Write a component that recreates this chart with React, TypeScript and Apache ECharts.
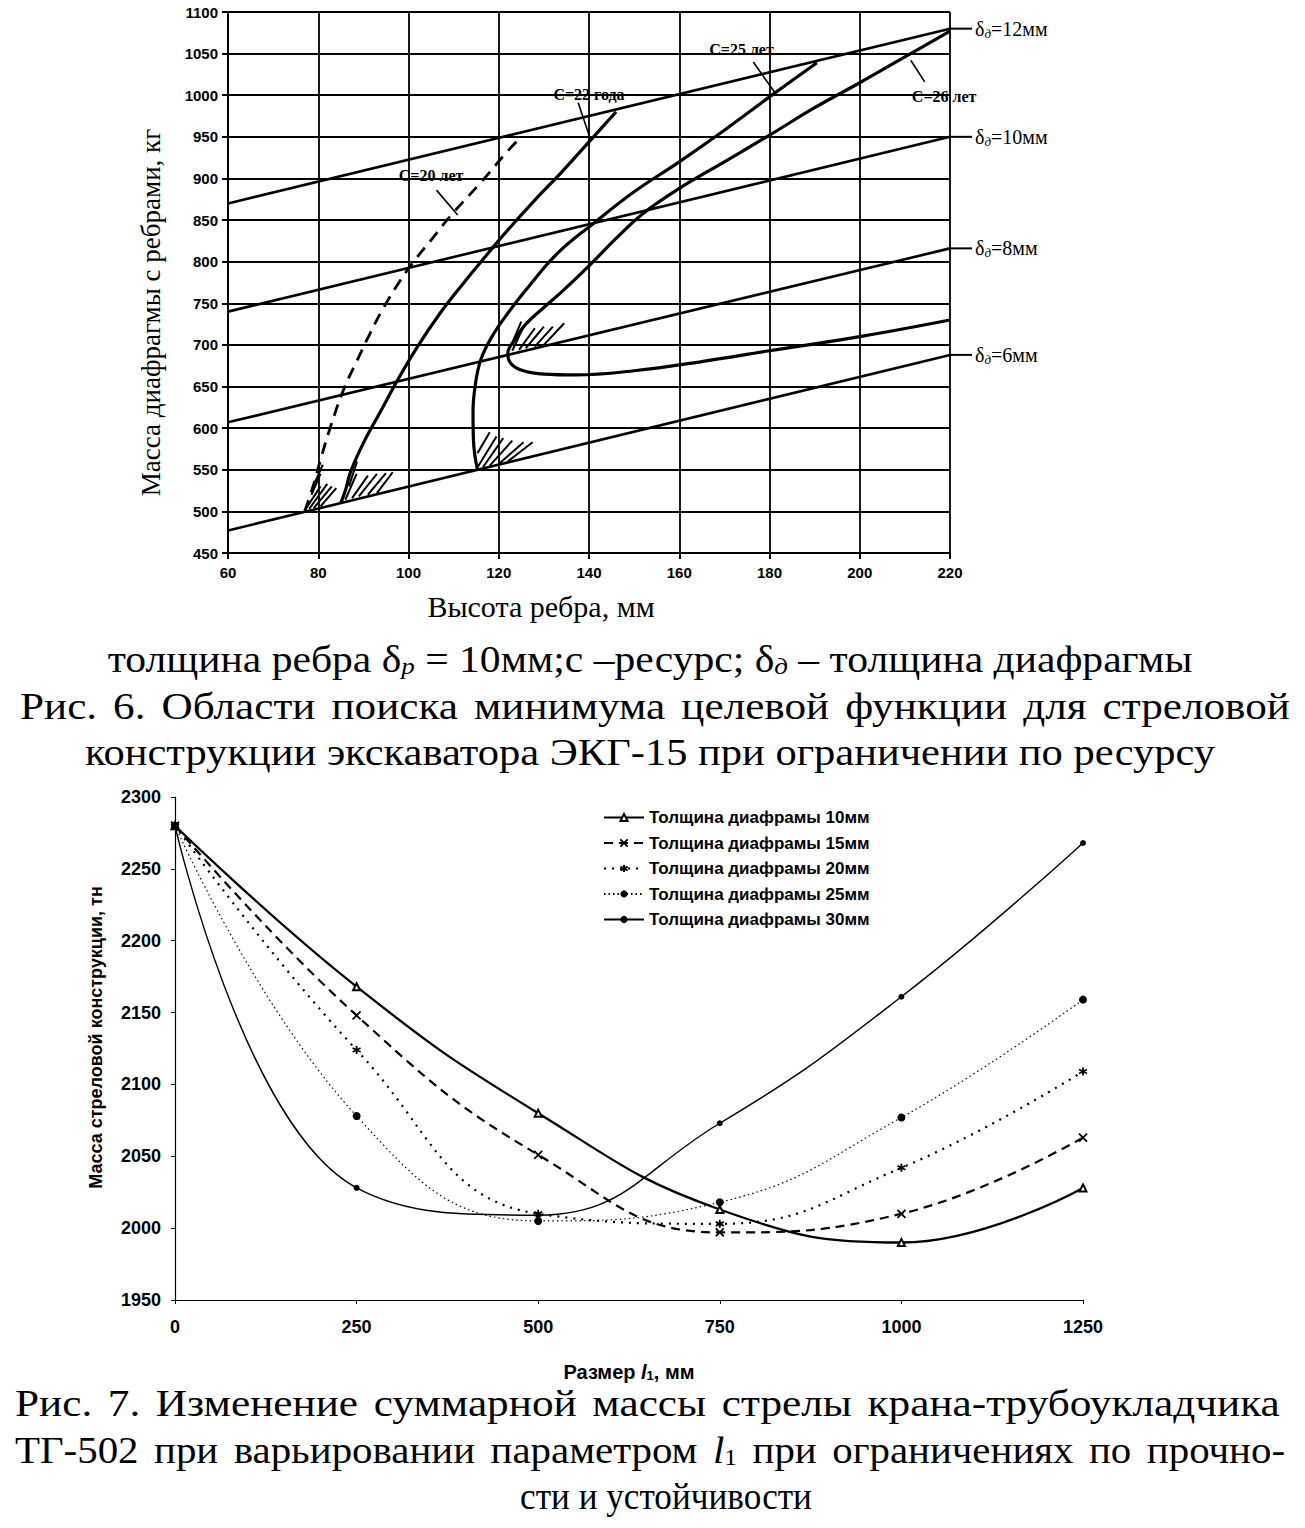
import React, { useEffect, useRef } from "react";
import * as echarts from "echarts";

const SERIF = "'Liberation Serif','Times New Roman','DejaVu Serif',serif";
const SANS = "'Liberation Sans',Arial,Helvetica,sans-serif";
const BLK = "#000";

// ---------------- Рис. 6 ----------------
const ribHeightAxis = { min: 60, max: 220, step: 20 };
const massAxis6 = { min: 450, max: 1100, step: 50 };

const diaphragmThickness = [12, 10, 8, 6];
const deltaMassAt60 = [870, 740, 607, 477];
const deltaMassAt220 = [1080, 950, 816, 688];

const c20 = [[77, 500], [79, 533], [80.5, 562], [82.5, 598], [85.6, 646], [88.5, 680], [91.5, 714], [94.4, 744], [98, 776], [101, 799], [105, 826], [109.3, 855], [116, 895], [122, 933], [125, 950]];
const c22 = [[85, 510], [86, 525], [87.2, 548], [90, 582], [93.8, 620], [97.5, 657], [102, 698], [107, 738], [112, 773], [117, 806], [122, 838], [128, 874], [134, 908], [140, 944], [143, 962], [146, 980]];
const c25 = [[115.3, 549], [114.4, 585], [114.3, 620], [114.8, 652], [116, 682], [118.5, 710], [122, 738], [126, 766], [133, 810], [141, 846], [150, 884], [160, 920], [170, 958], [180, 998], [190.5, 1039]];
const c26 = [[220, 730], [200, 710], [180, 693], [165, 680], [150, 669], [137, 664], [130, 665], [125.5, 669], [122.8, 677], [122, 690], [123.5, 706], [126, 725], [130, 745], [134, 764], [140, 795], [146, 828], [152, 858], [160, 888], [170, 920], [180, 952], [190, 985], [200, 1015], [210, 1046], [220, 1077]];

const curveLabels = ["С=20 лет", "С=22 года", "С=25 лет", "С=26 лет"];
const curveLabelAnchors = [[105, 904], [140, 1001], [173.8, 1055], [218.7, 998]];
const curveLeaders = [
  [[106.2, 886], [110.9, 856]],
  [[137.6, 991], [140.4, 946]],
  [[176.4, 1040], [181.6, 1000]],
  [[214.4, 1016], [211.3, 1042]],
];

// hatch strokes [x1, m1, x2, m2]
const hatchStrokes = [
  [77, 501, 80.5, 530], [78, 503, 82, 533], [79, 504, 83, 530], [78.5, 520, 80.5, 545], [79.3, 535, 81, 556], [80.5, 506, 84, 528],
  [86, 514, 88.5, 545], [87.5, 516, 91, 543], [89, 518, 93, 545], [91, 520, 95, 546], [93, 522, 96.5, 547], [86.8, 530, 88.6, 560],
  [115.3, 553, 119.5, 590], [116.5, 553, 121, 588], [118, 555, 123, 585], [120, 557, 125.5, 583], [122, 560, 127.5, 583], [115.3, 570, 118, 595],
  [123, 693, 125.5, 722], [124.5, 694, 128, 720], [126, 696, 130, 722], [128, 698, 132, 722], [130, 700, 134.5, 726], [123.2, 705, 125, 728],
];

// ---------------- Рис. 7 ----------------
const l1Axis = { min: 0, max: 1250, step: 250 };
const massAxis7 = { min: 1950, max: 2300, step: 50 };
const l1Values = [0, 250, 500, 750, 1000, 1250];
const seriesNames = [
  "Толщина диафрамы 10мм",
  "Толщина диафрамы 15мм",
  "Толщина диафрамы 20мм",
  "Толщина диафрамы 25мм",
  "Толщина диафрамы 30мм",
];
const mass10 = [2280, 2168, 2080, 2013, 1990, 2028];
const mass15 = [2280, 2148, 2051, 1997, 2010, 2063];
const mass20 = [2280, 2124, 2010, 2003, 2042, 2109];
const mass25 = [2280, 2078, 2005, 2018, 2077, 2159];
const mass30 = [2280, 2028, 2009, 2073, 2161, 2268];

// captions
const cap6Line1 = "толщина ребра δ{s|р} = 10мм;с –ресурс; δ{s|д} – толщина диафрагмы";
const cap6Line1Plain = "толщина ребра δр = 10мм;с –ресурс; δд – толщина диафрагмы";
const cap6Line2 = "Рис. 6. Области поиска минимума целевой функции для стреловой";
const cap6Line3 = "конструкции экскаватора ЭКГ-15 при ограничении по ресурсу";
const cap7Line1 = "Рис. 7. Изменение суммарной массы стрелы крана-трубоукладчика";
const cap7Line2 = "ТГ-502 при варьировании параметром l1 при ограничениях по прочно-";
const cap7Line3 = "сти и устойчивости";

const pair = (xs: number[], ys: number[]) => xs.map((x, i) => [x, ys[i]]);
const plainNum = (v: number) => String(v);

let measureCtx: CanvasRenderingContext2D | null = null;
function measure(text: string, font: string) {
  if (!measureCtx) measureCtx = document.createElement("canvas").getContext("2d");
  measureCtx!.font = font;
  return measureCtx!.measureText(text).width;
}

function wordEl(word: string, x: number, y: number, size: number, sx: number) {
  const base = {
    type: "text", x, y, scaleX: sx, silent: true, z: 50,
  };
  if (word === "l1") {
    return {
      ...base,
      style: {
        text: "{i|l}{s|1}", fill: BLK, fontFamily: SERIF, fontSize: size,
        textAlign: "left", align: "left", textVerticalAlign: "middle", verticalAlign: "middle",
        rich: {
          i: { fontFamily: SERIF, fontSize: size, fontStyle: "italic", lineHeight: size },
          s: { fontFamily: SERIF, fontSize: size * 0.62, lineHeight: 6, verticalAlign: "bottom" },
        },
      },
    };
  }
  return {
    ...base,
    style: {
      text: word, fill: BLK, fontFamily: SERIF, fontSize: size,
      textAlign: "left", align: "left", textVerticalAlign: "middle", verticalAlign: "middle",
    },
  };
}

function wordWidth(word: string, size: number) {
  if (word === "l1") {
    return measure("l", `italic ${size}px ${SERIF}`) + measure("1", `${size * 0.62}px ${SERIF}`);
  }
  return measure(word, `${size}px ${SERIF}`);
}

function justified(text: string, left: number, right: number, cy: number, size: number) {
  const words = text.split(" ");
  const widths = words.map((w) => wordWidth(w, size));
  const total = widths.reduce((a, b) => a + b, 0);
  const nGaps = words.length - 1;
  const baseGap = size * 0.42;
  const sx = Math.max(1, Math.min(1.22, (right - left - nGaps * baseGap) / total));
  const gap = (right - left - total * sx) / nGaps;
  const out: any[] = [];
  let x = left;
  words.forEach((w, i) => {
    out.push(wordEl(w, x, cy, size, sx));
    x += widths[i] * sx + gap;
  });
  return out;
}

function centeredFit(text: string, plain: string, left: number, right: number, cy: number, size: number, rich?: any) {
  const natural = measure(plain, `${size}px ${SERIF}`);
  const s = (right - left) / natural;
  return {
    type: "text", x: (left + right) / 2, y: cy, scaleX: s, silent: true, z: 50,
    style: {
      text, fill: BLK, fontFamily: SERIF, fontSize: size, lineHeight: size,
      textAlign: "center", align: "center", textVerticalAlign: "middle", verticalAlign: "middle",
      rich,
    },
  };
}

function buildOption() {
  const topLine = (data: number[][], width: number, extra: any = {}) => ({
    type: "line", xAxisIndex: 0, yAxisIndex: 0, data, symbol: "none", showSymbol: false,
    lineStyle: { color: BLK, width }, silent: true, z: 4, ...extra,
  });
  const deltaSeries = diaphragmThickness.map((t, i) =>
    topLine([[ribHeightAxis.min, deltaMassAt60[i]], [ribHeightAxis.max, deltaMassAt220[i]]], 2.6)
  );
  const leaderSeries = curveLeaders.map((seg) => topLine(seg, 1.6));

  const bottomCommon = (name: string, ys: number[], extra: any) => ({
    type: "line", name, xAxisIndex: 1, yAxisIndex: 1, data: pair(l1Values, ys),
    smooth: 0.45, showSymbol: true, z: 5, ...extra,
  });

  const axisLabelTop = { color: BLK, fontFamily: SANS, fontWeight: "bold", fontSize: 15, formatter: plainNum };
  const axisLabelBottom = { color: BLK, fontFamily: SANS, fontWeight: "bold", fontSize: 18, formatter: plainNum };

  return {
    animation: false,
    backgroundColor: "#fff",
    textStyle: { fontFamily: SANS, color: BLK },
    grid: [
      { left: 228, top: 12, width: 722, height: 541 },
      { left: 175, top: 797, width: 908, height: 503 },
    ],
    xAxis: [
      {
        type: "value", gridIndex: 0, min: ribHeightAxis.min, max: ribHeightAxis.max, interval: ribHeightAxis.step,
        axisLine: { show: true, onZero: false, lineStyle: { color: BLK, width: 2 } },
        axisTick: { show: true, length: 6, lineStyle: { color: BLK, width: 2 } },
        splitLine: { show: true, lineStyle: { color: BLK, width: 1.8 } },
        axisLabel: { ...axisLabelTop, margin: 12 },
        name: "Высота ребра, мм", nameLocation: "middle", nameGap: 38,
        nameTextStyle: { fontFamily: SERIF, fontSize: 30, color: BLK, padding: [0, 96, 0, 0] },
      },
      {
        type: "value", gridIndex: 1, min: l1Axis.min, max: l1Axis.max, interval: l1Axis.step,
        axisLine: { show: true, onZero: false, lineStyle: { color: BLK, width: 1.2 } },
        axisTick: { show: true, length: 4, lineStyle: { color: BLK, width: 1 } },
        splitLine: { show: false },
        axisLabel: { ...axisLabelBottom, margin: 18 },
        name: "Размер {i|l}{s|1}, мм", nameLocation: "middle", nameGap: 62,
        nameTextStyle: {
          fontFamily: SANS, fontWeight: "bold", fontSize: 20, color: BLK,
          rich: {
            i: { fontFamily: SANS, fontWeight: "bold", fontStyle: "italic", fontSize: 20 },
            s: { fontFamily: SANS, fontWeight: "bold", fontSize: 13, verticalAlign: "bottom", lineHeight: 8 },
          },
        },
      },
    ],
    yAxis: [
      {
        type: "value", gridIndex: 0, min: massAxis6.min, max: massAxis6.max, interval: massAxis6.step,
        axisLine: { show: true, onZero: false, lineStyle: { color: BLK, width: 2 } },
        axisTick: { show: true, length: 6, lineStyle: { color: BLK, width: 2 } },
        splitLine: { show: true, lineStyle: { color: BLK, width: 1.8 } },
        axisLabel: { ...axisLabelTop, margin: 10 },
        name: "Масса диафрагмы с ребрами, кг", nameLocation: "middle", nameGap: 64,
        nameTextStyle: { fontFamily: SERIF, fontSize: 27, color: BLK, padding: [0, 60, 0, 0] },
      },
      {
        type: "value", gridIndex: 1, min: massAxis7.min, max: massAxis7.max, interval: massAxis7.step,
        axisLine: { show: true, onZero: false, lineStyle: { color: BLK, width: 1.2 } },
        axisTick: { show: true, length: 4, lineStyle: { color: BLK, width: 1 } },
        splitLine: { show: false },
        axisLabel: { ...axisLabelBottom, margin: 14 },
        name: "Масса стреловой конструкции, тн", nameLocation: "middle", nameGap: 70,
        nameTextStyle: { fontFamily: SANS, fontWeight: "bold", fontSize: 18, color: BLK, padding: [0, 0, 0, 22] },
      },
    ],
    legend: {
      data: seriesNames, orient: "vertical", left: 598, top: 804,
      itemWidth: 40, itemHeight: 9, itemGap: 8.5,
      textStyle: { fontFamily: SANS, fontWeight: "bold", fontSize: 17, color: BLK },
    },
    series: [
      ...deltaSeries,
      topLine(c20, 2.8, { smooth: 0.4, lineStyle: { color: BLK, width: 2.8, type: [12, 8] } }),
      topLine(c22, 3.2, { smooth: 0.4 }),
      topLine(c25, 3.2, { smooth: 0.4 }),
      topLine(c26, 3.2, { smooth: 0.4 }),
      ...leaderSeries,
      {
        type: "custom", xAxisIndex: 0, yAxisIndex: 0, data: hatchStrokes, silent: true, z: 6,
        encode: { x: [0, 2], y: [1, 3] },
        renderItem: (_p: any, api: any) => {
          const a = api.coord([api.value(0), api.value(1)]);
          const b = api.coord([api.value(2), api.value(3)]);
          return { type: "line", shape: { x1: a[0], y1: a[1], x2: b[0], y2: b[1] }, style: { stroke: BLK, lineWidth: 2 } };
        },
      },
      bottomCommon(seriesNames[0], mass10, {
        symbol: "emptyTriangle", symbolSize: 7,
        lineStyle: { color: BLK, width: 2.3 }, itemStyle: { color: BLK, borderColor: BLK, borderWidth: 1.3 },
      }),
      bottomCommon(seriesNames[1], mass15, {
        symbol: "path://M0,0L10,10M10,0L0,10", symbolSize: 8,
        lineStyle: { color: BLK, width: 2.2, type: [9, 6] }, itemStyle: { color: BLK, borderColor: BLK, borderWidth: 1.8 },
      }),
      bottomCommon(seriesNames[2], mass20, {
        symbol: "path://M5,0L5,10M0,2.5L10,7.5M0,7.5L10,2.5", symbolSize: 8,
        lineStyle: { color: BLK, width: 2.2, type: [2, 6] }, itemStyle: { color: BLK, borderColor: BLK, borderWidth: 1.8 },
      }),
      bottomCommon(seriesNames[3], mass25, {
        symbol: "circle", symbolSize: 8,
        lineStyle: { color: BLK, width: 1.2, type: [1.5, 3] }, itemStyle: { color: BLK },
      }),
      bottomCommon(seriesNames[4], mass30, {
        symbol: "circle", symbolSize: 6,
        lineStyle: { color: BLK, width: 1.4 }, itemStyle: { color: BLK },
      }),
    ],
  };
}

function buildGraphics(chart: any) {
  const px = (pt: number[]) => chart.convertToPixel({ gridIndex: 0 }, pt) as number[];
  const els: any[] = [];
  diaphragmThickness.forEach((t, i) => {
    const e = px([ribHeightAxis.max, deltaMassAt220[i]]);
    els.push({ type: "line", silent: true, z: 50, shape: { x1: e[0], y1: e[1], x2: e[0] + 22, y2: e[1] }, style: { stroke: BLK, lineWidth: 2 } });
    els.push({
      type: "text", x: e[0] + 25, y: e[1], silent: true, z: 50,
      style: {
        text: `{a|δ}{b|д}{a|=${t}мм}`, fill: BLK,
        textAlign: "left", align: "left", textVerticalAlign: "middle", verticalAlign: "middle",
        rich: {
          a: { fontFamily: SERIF, fontSize: 20, lineHeight: 22 },
          b: { fontFamily: SERIF, fontSize: 13, fontStyle: "italic", lineHeight: 8, verticalAlign: "bottom" },
        },
      },
    });
  });
  curveLabels.forEach((lab, i) => {
    const p = px(curveLabelAnchors[i]);
    els.push({
      type: "text", x: p[0], y: p[1], silent: true, z: 50,
      style: {
        text: lab, fill: BLK, fontFamily: SERIF, fontWeight: "bold", fontSize: 16,
        textAlign: "center", align: "center", textVerticalAlign: "middle", verticalAlign: "middle",
      },
    });
  });

  const subRich = (size: number) => ({
    s: { fontFamily: SERIF, fontSize: size * 0.65, fontStyle: "italic", lineHeight: 8, verticalAlign: "bottom" },
  });
  els.push(centeredFit(cap6Line1, cap6Line1Plain, 100, 1200, 660, 37, subRich(37)));
  els.push(...justified(cap6Line2, 20, 1290, 706, 38));
  els.push(centeredFit(cap6Line3, cap6Line3, 85, 1215, 752, 38));
  els.push(...justified(cap7Line1, 15, 1280, 1404, 37));
  els.push(...justified(cap7Line2, 15, 1285, 1450, 37));
  els.push(centeredFit(cap7Line3, cap7Line3, 520, 812, 1497, 37));
  return els;
}

export default function App() {
  const ref = useRef<HTMLDivElement>(null);
  useEffect(() => {
    document.body.style.margin = "0";
    const chart = echarts.init(ref.current!, undefined, { renderer: "svg", width: 1305, height: 1528 });
    chart.setOption(buildOption() as any);
    chart.setOption({ graphic: { elements: buildGraphics(chart) } } as any);
    return () => chart.dispose();
  }, []);
  return <div ref={ref} style={{ width: 1305, height: 1528, background: "#fff" }} />;
}
